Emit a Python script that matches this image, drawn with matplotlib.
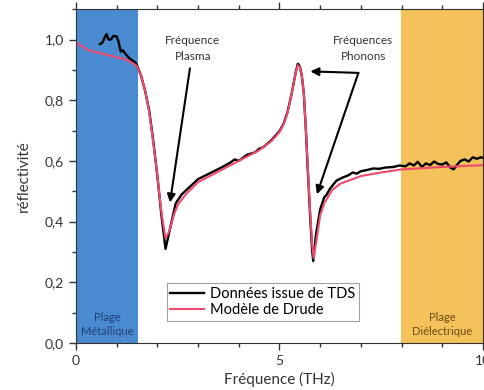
import matplotlib.pyplot as plt
from matplotlib.ticker import MultipleLocator, FuncFormatter

plt.rcParams['font.family'] = ['Lato', 'DejaVu Sans']

# model (Drude) curve
model_x = [0.0, 0.3, 0.6, 0.9, 1.2, 1.4, 1.5, 1.6, 1.7, 1.8, 1.9, 2.0, 2.1, 2.2,
           2.3, 2.4, 2.5, 2.7, 3.0, 3.5, 4.0, 4.5, 4.8, 5.0, 5.1, 5.2, 5.3, 5.4,
           5.45, 5.5, 5.55, 5.6, 5.65, 5.7, 5.75, 5.8, 5.84, 5.9, 6.0, 6.1, 6.3,
           6.5, 7.0, 7.5, 8.0, 9.0, 10.0]
model_y = [0.99, 0.965, 0.955, 0.945, 0.935, 0.922, 0.912, 0.88, 0.83, 0.76, 0.66,
           0.55, 0.43, 0.345, 0.37, 0.42, 0.455, 0.49, 0.53, 0.565, 0.60, 0.635,
           0.665, 0.695, 0.72, 0.76, 0.82, 0.89, 0.915, 0.91, 0.88, 0.82, 0.70,
           0.57, 0.44, 0.33, 0.28, 0.33, 0.42, 0.46, 0.505, 0.525, 0.55, 0.562,
           0.572, 0.58, 0.586]

# TDS measurement
tds_x = [0.59, 0.65, 0.7, 0.75, 0.8, 0.86, 0.92, 1.0, 1.05, 1.1, 1.15, 1.2, 1.3,
         1.37, 1.45, 1.5, 1.6, 1.7, 1.8, 1.9, 2.0, 2.1, 2.2, 2.25, 2.35, 2.45,
         2.6, 2.8, 3.0, 3.3, 3.6, 3.8, 3.9, 4.0, 4.2, 4.4, 4.5, 4.6, 4.8, 5.0,
         5.1, 5.2, 5.3, 5.4, 5.45, 5.5, 5.55, 5.6, 5.65, 5.7, 5.75, 5.8, 5.83,
         5.9, 6.0, 6.1, 6.15, 6.25, 6.4, 6.55, 6.7, 6.8, 6.9, 7.0, 7.15, 7.3,
         7.45, 7.6, 7.8, 7.95, 8.1, 8.2, 8.3, 8.4, 8.5, 8.6, 8.7, 8.8, 8.9, 9.0,
         9.1, 9.2, 9.28, 9.35, 9.45, 9.55, 9.65, 9.75, 9.85, 9.95, 10.0]
tds_y = [0.985, 0.99, 1.005, 1.018, 1.0, 1.0, 1.012, 1.01, 0.99, 0.96, 0.965,
         0.955, 0.94, 0.932, 0.925, 0.915, 0.88, 0.83, 0.765, 0.665, 0.55, 0.42,
         0.31, 0.34, 0.40, 0.46, 0.49, 0.515, 0.54, 0.56, 0.58, 0.595, 0.605,
         0.60, 0.62, 0.628, 0.64, 0.645, 0.668, 0.698, 0.722, 0.762, 0.822,
         0.892, 0.92, 0.912, 0.88, 0.82, 0.70, 0.56, 0.43, 0.31, 0.27, 0.36,
         0.44, 0.48, 0.487, 0.51, 0.535, 0.545, 0.553, 0.562, 0.558, 0.566, 0.57,
         0.575, 0.574, 0.578, 0.58, 0.585, 0.582, 0.592, 0.585, 0.597, 0.58,
         0.592, 0.586, 0.598, 0.59, 0.588, 0.595, 0.578, 0.572, 0.585, 0.60,
         0.605, 0.598, 0.612, 0.607, 0.612, 0.61]

metal_range = (0, 1.53)
dielec_range = (7.98, 10)

fig = plt.figure(figsize=(4.85, 3.9), dpi=100)
ax = fig.add_axes([0.1567, 0.1205, 0.839, 0.856])

ax.axvspan(*metal_range, color='#4a8ad0', lw=0, zorder=0)
ax.axvspan(*dielec_range, color='#f3c25a', lw=0, zorder=0)

ax.plot(tds_x, tds_y, color='black', lw=1.7, label='Données issue de TDS')
ax.plot(model_x, model_y, color='#f2496e', lw=1.5, label='Modèle de Drude')

ax.set_xlim(0, 10)
ax.set_ylim(0, 1.1)
ax.xaxis.set_major_locator(MultipleLocator(5))
ax.xaxis.set_minor_locator(MultipleLocator(1))
ax.yaxis.set_major_locator(MultipleLocator(0.2))
ax.yaxis.set_minor_locator(MultipleLocator(0.1))
ax.yaxis.set_major_formatter(FuncFormatter(lambda v, p: f'{v:.1f}'.replace('.', ',')))
ax.tick_params(which='both', direction='out', labelsize=10, colors='#333333')
ax.tick_params(which='major', length=5, width=1)
ax.tick_params(which='minor', length=3, width=1)
ax.tick_params(which='both', top=True, right=True)
for s in ax.spines.values():
    s.set_color('#333333')

ax.set_xlabel('Fréquence (THz)', fontsize=11, color='#333333', labelpad=4)
ax.set_ylabel('réflectivité', fontsize=11, color='#333333', labelpad=10)

ax.text(0.76, 0.06, 'Plage\nMétallique', ha='center', va='center', fontsize=8,
        color='#1f3f78', linespacing=1.3)
ax.text(9.0, 0.06, 'Plage\nDiélectrique', ha='center', va='center', fontsize=8,
        color='#6b4a10', linespacing=1.3)

arrow = dict(arrowstyle='-|>', color='black', lw=1.5, mutation_scale=12,
             shrinkA=0, shrinkB=0)
ax.text(2.87, 0.97, 'Fréquence\nPlasma', ha='center', va='center', fontsize=8.5,
        color='#333333', linespacing=1.5)
ax.annotate('', xy=(2.31, 0.463), xytext=(2.80, 0.905), arrowprops=arrow)
ax.text(7.06, 0.97, 'Fréquences\nPhonons', ha='center', va='center', fontsize=8.5,
        color='#333333', linespacing=1.5)
ax.annotate('', xy=(5.76, 0.895), xytext=(6.94, 0.89), arrowprops=arrow)
ax.annotate('', xy=(5.92, 0.49), xytext=(6.94, 0.89), arrowprops=arrow)

leg = ax.legend(loc='lower left', bbox_to_anchor=(0.205, 0.045), fontsize=10.5,
                frameon=True, fancybox=False, edgecolor='#888888',
                handlelength=2.3, borderpad=0.25, labelspacing=0.15,
                handletextpad=0.4)
leg.get_frame().set_linewidth(0.8)

fig.savefig('out.png', dpi=100)
